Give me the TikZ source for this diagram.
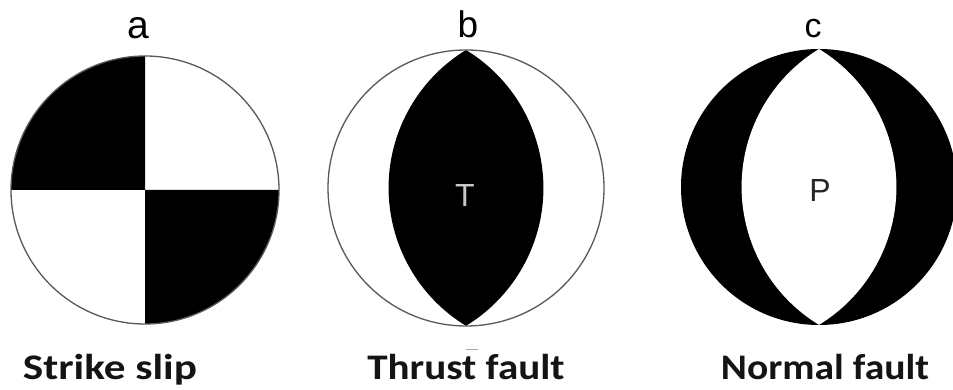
\documentclass[tikz,border=0pt]{standalone}
\usepackage{fontspec}
\usepackage{graphicx}
\setmainfont{Liberation Sans}
\newfontfamily\capfont{Carlito}
\begin{document}
\begin{tikzpicture}[x=1pt,y=1pt,
  outline/.style={draw=black!65, line width=1.3pt},
  letterlab/.style={anchor=base, inner sep=0pt},
  caption/.style={anchor=base, inner sep=0pt, font=\capfont\bfseries\fontsize{36}{40}\selectfont, text=black!92},
  axislab/.style={inner sep=0pt, font=\fontsize{32}{36}\selectfont}]
\fill[white] (0,0) rectangle (953,390);
\useasboundingbox (0,0) rectangle (953,390);

% ---- a : strike slip ----
\coordinate (ca) at (145,200);
\fill[white] (ca) circle[radius=134];
\fill[black] (ca) -- ++(-134,0) arc[start angle=180,end angle=90,radius=134] -- cycle;
\fill[black] (ca) -- ++(134,0) arc[start angle=0,end angle=-90,radius=134] -- cycle;
\draw[outline] (ca) circle[radius=134];

% ---- b : thrust fault ----
\coordinate (cb) at (466,202);
\fill[white] (cb) circle[radius=138];
\fill[black] (466,340) arc[start angle=58.6,end angle=-58.6,radius=161.6]
  arc[start angle=238.6,end angle=121.4,radius=161.6] -- cycle;
\draw[outline] (cb) circle[radius=138];

% ---- c : normal fault ----
\coordinate (cc) at (819,203);
\fill[black] (cc) circle[radius=138];
\fill[white] (819,341) arc[start angle=58.6,end angle=-58.6,radius=161.6]
  arc[start angle=238.6,end angle=121.4,radius=161.6] -- cycle;

% ---- letters ----
\node[letterlab, font=\fontsize{39}{42}\selectfont] (la) at (138,351) {a};
\node[letterlab, font=\fontsize{37}{42}\selectfont] (lb) at (468,352) {b};
\node[letterlab, font=\fontsize{34}{38}\selectfont] (lc) at (813,352) {c};

\node[axislab, text=black!22] (t) at (465,195) {T};
\node[axislab, text=black!85] (p) at (820,200) {P};

% small smudge above caption b
\draw[black!35, line width=1pt] (466,40) -- (478,40);

% ---- captions ----
\node[caption] (sa) at (110,10) {\scalebox{1.2}[1]{Strike slip}};
\node[caption] (sb) at (466,10) {\scalebox{1.14}[1]{Thrust fault}};
\node[caption] (sc) at (825,10) {\scalebox{1.1}[1]{Normal fault}};
\end{tikzpicture}
\end{document}
